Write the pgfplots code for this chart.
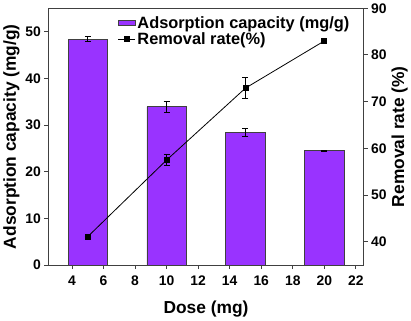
\documentclass[border=0pt]{standalone}
\usepackage{fontspec}
\setmainfont{Liberation Sans}
\usepackage{pgfplots}
\pgfplotsset{compat=1.18}
\definecolor{barfill}{HTML}{9933FF}
\definecolor{axgray}{HTML}{404040}
\newcommand{\legfont}{\bfseries\fontsize{16.5}{18}\selectfont}
\begin{document}
\begin{tikzpicture}
\pgfplotsset{
  every axis/.append style={
    scale only axis, width=318pt, height=259pt,
    xmin=2.5, xmax=22.5,
    /pgf/number format/assume math mode=true,
    tick align=outside, major tick length=4pt,
    axis line style={axgray, line width=0.9pt},
    every tick/.style={axgray, line width=0.9pt},
    ticklabel style={font=\bfseries\fontsize{14}{16}\selectfont},
    label style={font=\bfseries\fontsize{17.5}{20}\selectfont},
  }
}
\begin{axis}[
  ymin=0, ymax=55,
  xtick={4,6,...,22}, ytick={0,10,...,50},
  xtick pos=bottom, ytick pos=left,
  xticklabel style={yshift=-3pt},
  xlabel={Dose (mg)}, ylabel={Adsorption capacity (mg/g)},
  xlabel style={yshift=-9pt},
  ylabel style={yshift=-1pt},
]
\addplot[ybar, bar width=2.5, fill=barfill, draw=axgray, line width=0.7pt,
  error bars/.cd, y dir=both, y explicit,
  error bar style={black, line width=0.8pt},
  error mark options={rotate=90, mark size=3pt, black, line width=0.8pt}]
  coordinates {
  (5,48.4) +- (0,0.6)
  (10,33.9) +- (0,1.1)
  (15,28.4) +- (0,0.9)
  (20,24.5) +- (0,0.12)
  };
\end{axis}
\begin{axis}[
  ymin=35, ymax=90,
  ytick={40,50,...,90},
  axis y line*=right, hide x axis,
  ylabel={Removal rate (\%)},
  ylabel style={yshift=2pt},
  legend style={at={(0.21,0.985)}, anchor=north west, draw=none, fill=none,
    font=\legfont, row sep=-1pt},
  legend cell align=left,
]
\addlegendimage{area legend, fill=barfill, draw=axgray, line width=0.7pt}
\addlegendentry{Adsorption capacity (mg/g)}
\addplot[black, line width=0.8pt, mark=square*, mark size=2.5pt,
  error bars/.cd, y dir=both, y explicit,
  error bar style={black, line width=0.8pt},
  error mark options={rotate=90, mark size=3pt, black, line width=0.8pt}]
  coordinates {
  (5,41.1) +- (0,0)
  (10,57.5) +- (0,1.2)
  (15,72.9) +- (0,2.2)
  (20,83.0) +- (0,0)
  };
\addlegendentry{Removal rate(\%)}
\end{axis}
\end{tikzpicture}
\end{document}
